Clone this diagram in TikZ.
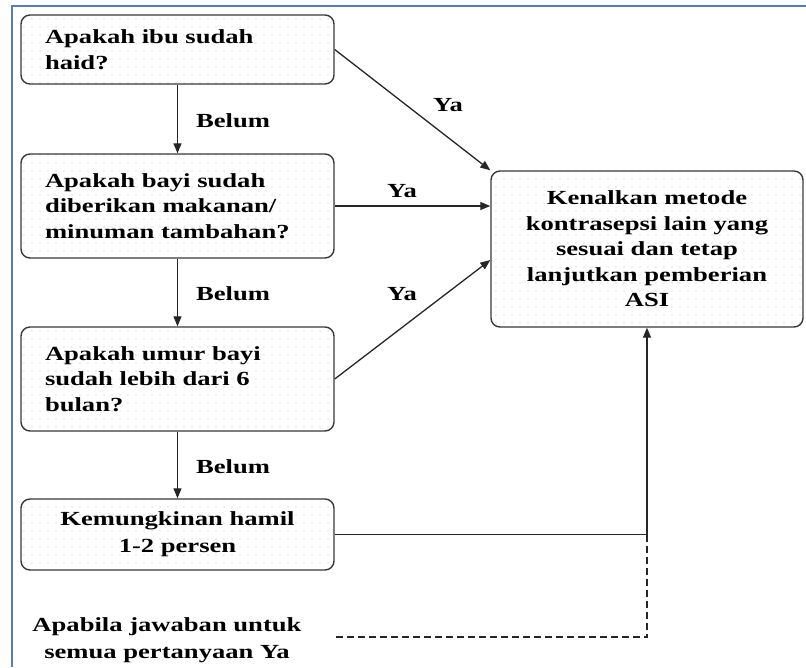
\documentclass[tikz,border=0pt]{standalone}
\usepackage{fontspec}
\setmainfont{Liberation Serif}[FakeStretch=1.33]
\usetikzlibrary{arrows.meta,patterns.meta,calc}
\definecolor{frameblue}{RGB}{79,129,189}
\begin{document}
\begin{tikzpicture}[x=1pt,y=-1pt,
  every node/.style={font=\fontsize{20}{25.5}\selectfont\bfseries},
  box/.style={draw=gray!45!black, line width=1.4pt, rounded corners=9pt,
    pattern={Dots[distance=8pt,radius=0.55pt]}, pattern color=gray!55,
    minimum width=313pt, inner sep=0pt},
  qbox/.style={box, text width=265pt, align=left},
  abox/.style={box, text width=290pt, align=center},
  conn/.style={line width=1.3pt, draw=black!85, -{Triangle[length=10pt,width=8pt]}},
  dashline/.style={line width=1.3pt, draw=black!85, dash pattern=on 7pt off 4pt},
  lbl/.style={inner sep=1pt}
]
\useasboundingbox (0,0) rectangle (806,667);
\draw[frameblue, line width=2.5pt] (806,6) -- (12,6) -- (12,667);

\node[qbox, minimum height=69pt] (b1) at (177.5,49.5) {Apakah ibu sudah\\haid?};
\node[qbox, minimum height=104pt] (b2) at (177.5,206) {Apakah bayi sudah\\diberikan makanan/\\minuman tambahan?};
\node[qbox, minimum height=104pt] (b3) at (177.5,379) {Apakah umur bayi\\sudah lebih dari 6\\bulan?};
\node[abox, minimum height=71pt, font=\fontsize{20}{27}\selectfont\bfseries] (b4) at (177.5,534.5) {Kemungkinan hamil\\1-2 persen};
\node[abox, minimum width=312pt, minimum height=156pt] (b5) at (647,249) {Kenalkan metode\\kontrasepsi lain yang\\sesuai dan tetap\\lanjutkan pemberian\\ASI};

\draw[conn] (b1.south) -- (b2.north);
\draw[conn] (b2.south) -- (b3.north);
\draw[conn] (b3.south) -- (b4.north);

\draw[conn] (b1.east) -- (b5.north west);
\draw[conn] (b2.east) -- (b2.east -| b5.west);
\coordinate (t3) at ($(b5.west)+(0,11)$);
\draw[conn] (b3.east) -- (t3);
\draw[conn] (b4.east) -| (b5.south);

\coordinate (dy) at (0,637);
\draw[dashline] (b4.east -| b5.south) -- (b5.south |- dy) -- (b4.east |- dy);

\node[lbl] (l1) at (233,121) {Belum};
\node[lbl] (l2) at (233,294) {Belum};
\node[lbl] (l3) at (233,467) {Belum};
\node[lbl] (y1) at (448,105) {Ya};
\node[lbl] (y2) at (402,191) {Ya};
\node[lbl] (y3) at (402,294) {Ya};

\node[align=center, font=\fontsize{20}{27}\selectfont\bfseries] (note) at (167,640) {Apabila jawaban untuk\\semua pertanyaan Ya};
\end{tikzpicture}
\end{document}
